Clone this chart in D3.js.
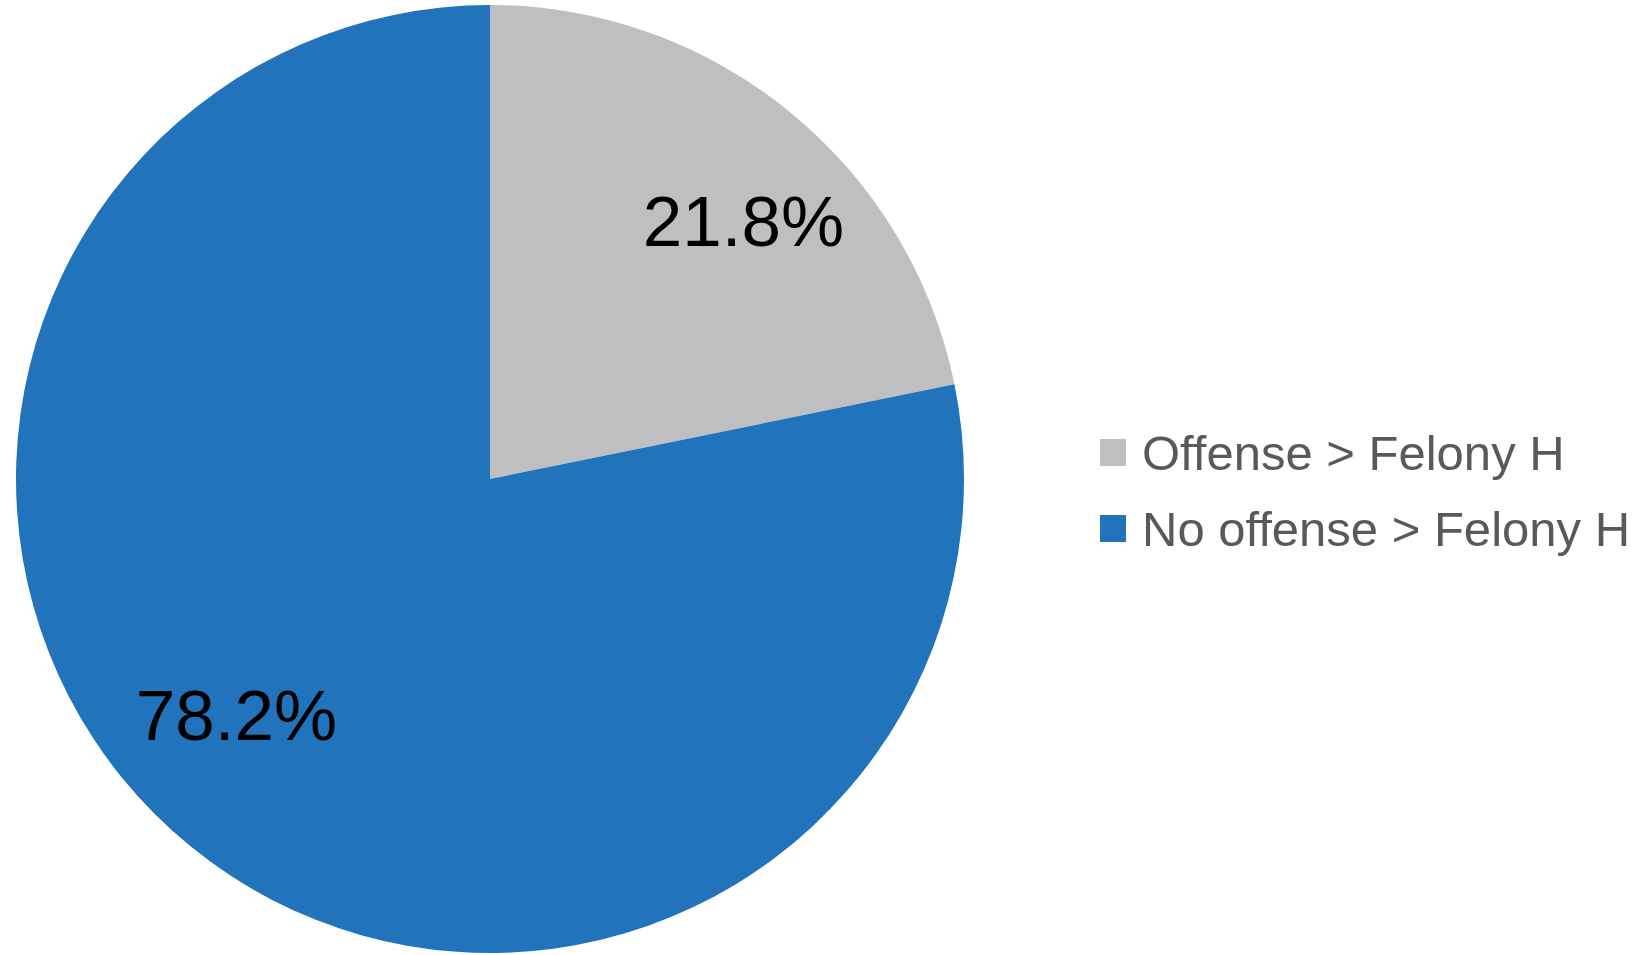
<!DOCTYPE html>
<html>
<head>
<meta charset="utf-8">
<script src="https://cdn.jsdelivr.net/npm/d3@7"></script>
<style>
  html, body { margin: 0; padding: 0; background: #ffffff; }
  svg { display: block; }
</style>
</head>
<body>
<svg id="chart" width="1650" height="955"></svg>
<script>
// Data
const categories = ["Offense > Felony H", "No offense > Felony H"];
const values = [21.8, 78.2];
const labels = ["21.8%", "78.2%"];
const colors = ["#bebfc1", "#2174bb"];

const W = 1650, H = 955;
const cx = 490, cy = 479, R = 474;
const labelR = 354;
const labelAngleShift = 6.5 * Math.PI / 180;

const svg = d3.select("#chart");
const g = svg.append("g").attr("transform", `translate(${cx},${cy})`);

const pie = d3.pie().sort(null).value(d => d.v);
const data = pie(categories.map((c, i) => ({ c, v: values[i], label: labels[i], color: colors[i] })));

const arc = d3.arc().innerRadius(0).outerRadius(R);

g.selectAll("path.slice")
  .data(data)
  .enter().append("path")
  .attr("class", "slice")
  .attr("d", arc)
  .attr("fill", d => d.data.color);

g.selectAll("text.lbl")
  .data(data)
  .enter().append("text")
  .attr("class", "lbl")
  .attr("x", d => labelR * Math.sin((d.startAngle + d.endAngle) / 2 + labelAngleShift))
  .attr("y", d => -labelR * Math.cos((d.startAngle + d.endAngle) / 2 + labelAngleShift))
  .attr("dy", "0.2em")
  .attr("text-anchor", "middle")
  .attr("font-family", "'Liberation Sans', Arial, sans-serif")
  .attr("font-size", 71)
  .attr("fill", "#000000")
  .text(d => d.data.label);

// Legend
const legend = svg.append("g").attr("transform", "translate(1100,439)");
const rowH = 76;
const items = legend.selectAll("g.item")
  .data(categories)
  .enter().append("g")
  .attr("class", "item")
  .attr("transform", (d, i) => `translate(0,${i * rowH})`);

items.append("rect")
  .attr("x", 0).attr("y", 0)
  .attr("width", 26).attr("height", 27)
  .attr("fill", (d, i) => colors[i]);

items.append("text")
  .attr("x", 42)
  .attr("y", 31)
  .attr("font-family", "'Liberation Sans', Arial, sans-serif")
  .attr("font-size", 49)
  .attr("fill", "#595959")
  .text(d => d);
</script>
</body>
</html>
